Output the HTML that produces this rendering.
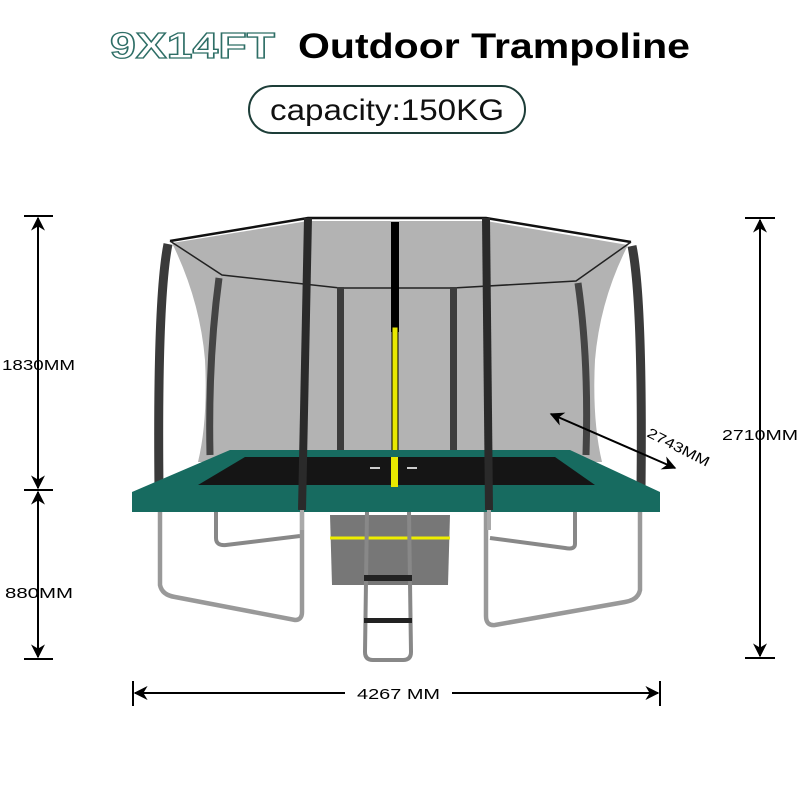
<!DOCTYPE html>
<html><head><meta charset="utf-8"><style>
html,body{margin:0;padding:0;background:#fff;}
svg{display:block;}
text{font-family:"Liberation Sans",sans-serif;}
</style></head><body>
<svg width="800" height="800" viewBox="0 0 800 800" xmlns="http://www.w3.org/2000/svg">
<defs>
<marker id="ar" viewBox="0 0 10 10" refX="9" refY="5" markerWidth="7" markerHeight="7" orient="auto-start-reverse"><path d="M0,0 L10,5 L0,10 L3,5 z" fill="#000"/></marker>
</defs>
<!-- title -->
<text x="110" y="58" font-size="36" font-weight="bold" fill="#fff" stroke="#2e6e66" stroke-width="1.3" textLength="165" lengthAdjust="spacingAndGlyphs">9X14FT</text>
<text x="298" y="58" font-size="35" font-weight="bold" fill="#000" textLength="392" lengthAdjust="spacingAndGlyphs">Outdoor Trampoline</text>
<rect x="249" y="86" width="276" height="47" rx="23.5" fill="#fff" stroke="#1d3d38" stroke-width="2"/>
<text x="270" y="120" font-size="30" fill="#111" textLength="234" lengthAdjust="spacingAndGlyphs">capacity:150KG</text>

<!-- net -->
<path d="M172,243 L308,221 L486,221 L628,245 Q600,300 595,360 Q592,420 602,462 L198,462 Q208,420 205,360 Q200,300 172,243 Z" fill="#b3b3b3"/>
<polyline points="170,241 308,218 486,218 631,242" fill="none" stroke="#111" stroke-width="2.5"/>
<polyline points="170,241 222,275 340,288 453,288 576,281 631,242" fill="none" stroke="#222" stroke-width="1.5"/>
<path d="M219,278 Q208,360 210,455" stroke="#444" stroke-width="7" fill="none"/>
<path d="M578,283 Q589,360 586,455" stroke="#444" stroke-width="7" fill="none"/>
<rect x="337" y="287" width="7" height="170" fill="#3c3c3c"/>
<rect x="450" y="287" width="7" height="170" fill="#3c3c3c"/>
<rect x="391" y="222" width="8" height="110" fill="#000"/>
<rect x="392" y="327" width="6" height="158" fill="#e8e800" stroke="#000" stroke-width="1"/>

<!-- legs back -->
<path d="M216,512 L216,538 Q216,546 226,545 L300,536" stroke="#888" stroke-width="4" fill="none"/>
<path d="M575,512 L575,544 Q575,550 565,548 L490,538" stroke="#888" stroke-width="4" fill="none"/>
<!-- bag -->
<path d="M330,515 L450,515 L448,585 L332,585 Z" fill="#777"/>
<line x1="330" y1="538" x2="450" y2="538" stroke="#ee0" stroke-width="3"/>
<!-- legs front -->
<path d="M160,512 L160,585 Q162,595 175,597 L295,620 Q302,620 302,612 L302,512" stroke="#999" stroke-width="4.5" fill="none"/>
<path d="M640,512 L640,590 Q638,600 625,602 L495,625 Q486,626 486,616 L486,512" stroke="#999" stroke-width="4.5" fill="none"/>
<!-- ladder -->
<path d="M367,512 L365,652 Q365,660 373,660 L403,660 Q411,660 411,652 L409,512" stroke="#888" stroke-width="4" fill="none"/>
<rect x="364" y="575" width="48" height="6" fill="#222"/>
<rect x="364" y="618" width="48" height="5" fill="#222"/>

<!-- corner poles -->
<path d="M168,244 Q157,300 159,490" stroke="#3a3a3a" stroke-width="9" fill="none"/>
<path d="M632,246 Q643,300 641,490" stroke="#3a3a3a" stroke-width="9" fill="none"/>

<!-- frame -->
<path d="M230,450 L570,450 L660,492 L660,512 L132,512 L132,492 Z" fill="#176b60"/>
<path d="M245,457 L555,457 L595,485 L198,485 Z" fill="#151515"/>
<line x1="370" y1="468" x2="380" y2="468" stroke="#ccc" stroke-width="2"/>
<line x1="407" y1="468" x2="417" y2="468" stroke="#ccc" stroke-width="2"/>
<rect x="391" y="457" width="7" height="30" fill="#e8e800"/>

<path d="M308,218 L302,510" stroke="#2a2a2a" stroke-width="8" fill="none"/>
<path d="M486,218 L489,510" stroke="#2a2a2a" stroke-width="8" fill="none"/>
<line x1="302" y1="510" x2="302" y2="530" stroke="#aaa" stroke-width="4"/>
<line x1="489" y1="510" x2="489" y2="530" stroke="#aaa" stroke-width="4"/>

<!-- dimensions -->
<g stroke="#000" stroke-width="2" fill="none">
<line x1="24" y1="216" x2="53" y2="216"/><line x1="24" y1="490" x2="53" y2="490"/><line x1="24" y1="659" x2="53" y2="659"/>
<line x1="38" y1="218" x2="38" y2="488" marker-start="url(#ar)" marker-end="url(#ar)"/>
<line x1="38" y1="492" x2="38" y2="657" marker-start="url(#ar)" marker-end="url(#ar)"/>
<line x1="745" y1="218" x2="775" y2="218"/><line x1="745" y1="658" x2="775" y2="658"/>
<line x1="760" y1="220" x2="760" y2="656" marker-start="url(#ar)" marker-end="url(#ar)"/>
<line x1="133" y1="681" x2="133" y2="706"/><line x1="660" y1="681" x2="660" y2="706"/>
<line x1="135" y1="693" x2="345" y2="693" marker-start="url(#ar)"/>
<line x1="452" y1="693" x2="658" y2="693" marker-end="url(#ar)"/>
<line x1="551" y1="414" x2="675" y2="468" marker-start="url(#ar)" marker-end="url(#ar)"/>
</g>
<text x="2" y="370" font-size="15" fill="#000" textLength="73" lengthAdjust="spacingAndGlyphs">1830MM</text>
<text x="5" y="598" font-size="15" fill="#000" textLength="68" lengthAdjust="spacingAndGlyphs">880MM</text>
<text x="722" y="440" font-size="15" fill="#000" textLength="76" lengthAdjust="spacingAndGlyphs">2710MM</text>
<text x="357" y="699" font-size="15" fill="#000" textLength="83" lengthAdjust="spacingAndGlyphs">4267 MM</text>
<text x="646" y="436" font-size="14" fill="#000" transform="rotate(27 646 436)" textLength="68" lengthAdjust="spacingAndGlyphs">2743MM</text>
</svg>
</body></html>
